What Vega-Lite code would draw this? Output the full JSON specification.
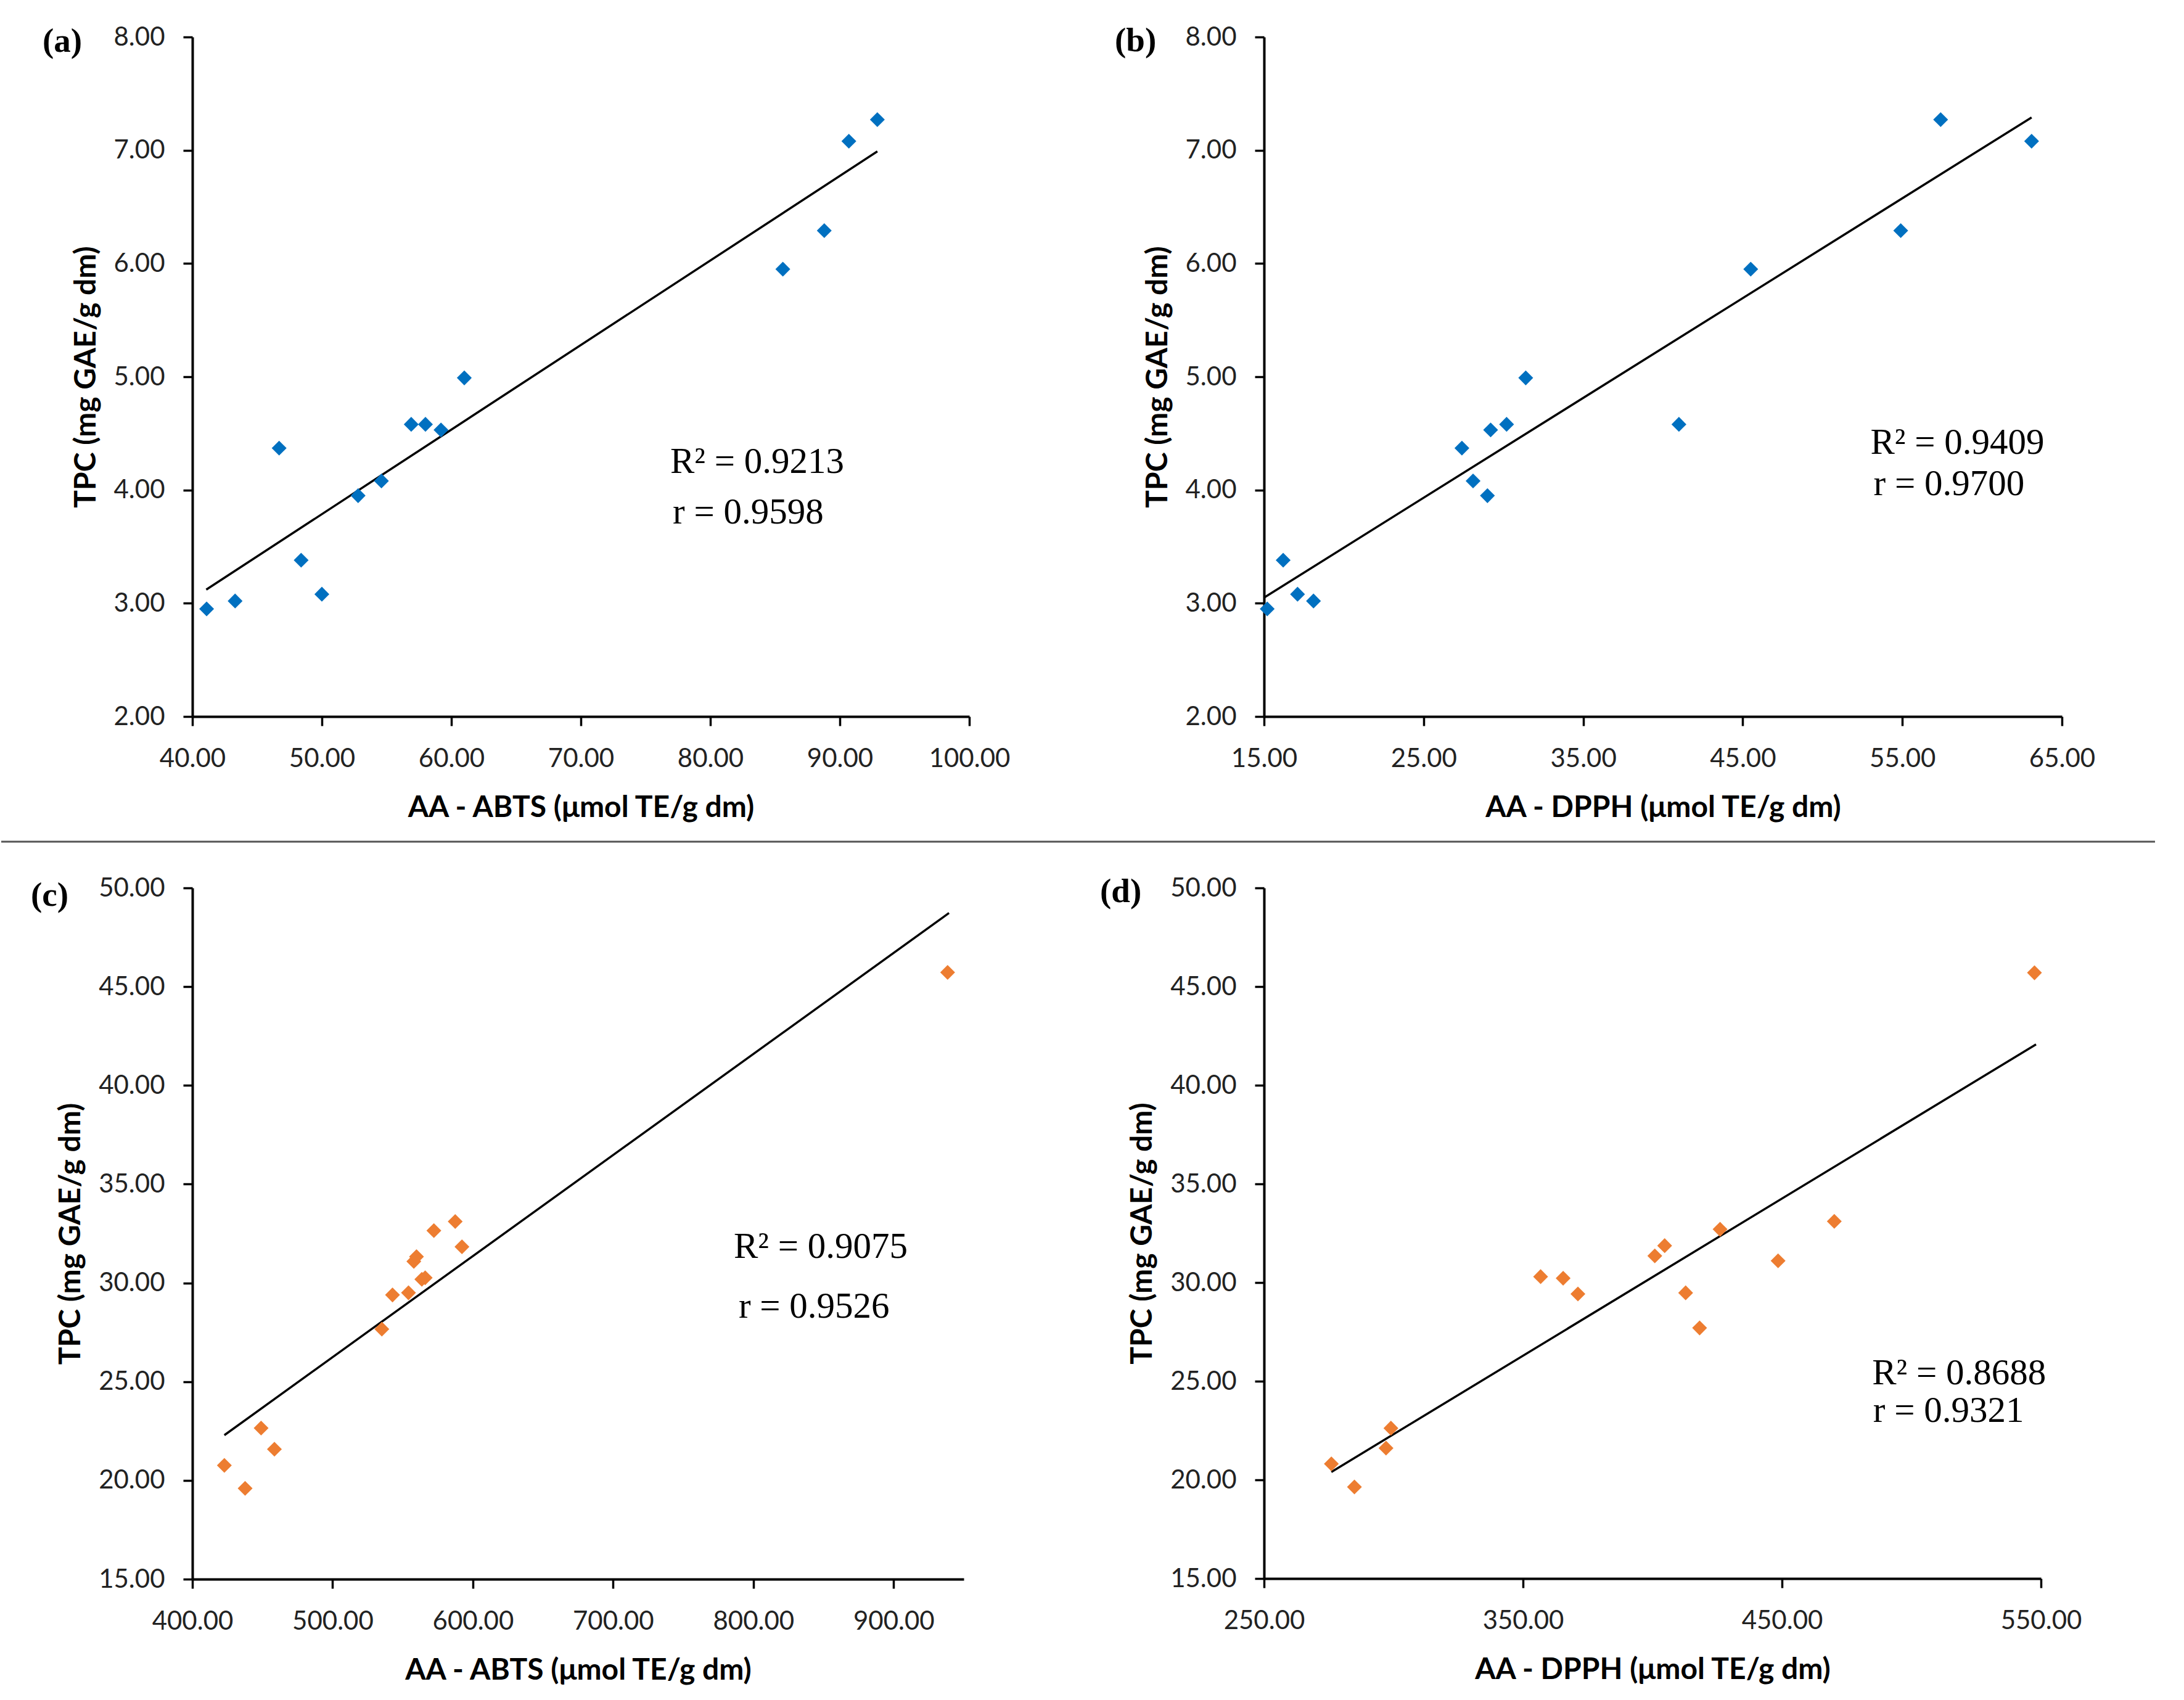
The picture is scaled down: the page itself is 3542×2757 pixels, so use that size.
{
  "$schema": "https://vega.github.io/schema/vega-lite/v6.json",
  "background": "white",
  "padding": {"left": 0, "top": 39, "right": 0, "bottom": 20},
  "datasets": {
    "pa": [
      {"aa": 41.1, "tpc": 2.95}, {"aa": 43.3, "tpc": 3.02}, {"aa": 46.7, "tpc": 4.37},
      {"aa": 48.4, "tpc": 3.38}, {"aa": 50.0, "tpc": 3.08}, {"aa": 52.8, "tpc": 3.95},
      {"aa": 54.6, "tpc": 4.08}, {"aa": 56.9, "tpc": 4.58}, {"aa": 58.0, "tpc": 4.58},
      {"aa": 59.2, "tpc": 4.53}, {"aa": 61.0, "tpc": 4.99}, {"aa": 85.6, "tpc": 5.95},
      {"aa": 88.8, "tpc": 6.29}, {"aa": 90.7, "tpc": 7.08}, {"aa": 92.9, "tpc": 7.27}
    ],
    "pb": [
      {"aa": 15.2, "tpc": 2.95}, {"aa": 16.2, "tpc": 3.38}, {"aa": 17.1, "tpc": 3.08},
      {"aa": 18.1, "tpc": 3.02}, {"aa": 27.4, "tpc": 4.37}, {"aa": 28.1, "tpc": 4.08},
      {"aa": 29.0, "tpc": 3.95}, {"aa": 29.2, "tpc": 4.53}, {"aa": 30.2, "tpc": 4.58},
      {"aa": 31.4, "tpc": 4.99}, {"aa": 41.0, "tpc": 4.58}, {"aa": 45.5, "tpc": 5.95},
      {"aa": 54.9, "tpc": 6.29}, {"aa": 57.4, "tpc": 7.27}, {"aa": 63.1, "tpc": 7.08}
    ],
    "pc": [
      {"aa": 422.8, "tpc": 20.76}, {"aa": 437.6, "tpc": 19.6}, {"aa": 449.0, "tpc": 22.65},
      {"aa": 458.5, "tpc": 21.58}, {"aa": 535.1, "tpc": 27.66}, {"aa": 542.7, "tpc": 29.39},
      {"aa": 554.1, "tpc": 29.5}, {"aa": 557.9, "tpc": 31.09}, {"aa": 559.8, "tpc": 31.33},
      {"aa": 563.6, "tpc": 30.18}, {"aa": 566.0, "tpc": 30.26}, {"aa": 572.2, "tpc": 32.65},
      {"aa": 587.4, "tpc": 33.11}, {"aa": 592.2, "tpc": 31.83}, {"aa": 938.5, "tpc": 45.72}
    ],
    "pd": [
      {"aa": 276.0, "tpc": 20.81}, {"aa": 284.9, "tpc": 19.64}, {"aa": 297.1, "tpc": 21.61},
      {"aa": 299.0, "tpc": 22.62}, {"aa": 356.8, "tpc": 30.3}, {"aa": 365.5, "tpc": 30.22},
      {"aa": 371.2, "tpc": 29.42}, {"aa": 400.9, "tpc": 31.35}, {"aa": 404.7, "tpc": 31.87},
      {"aa": 412.8, "tpc": 29.48}, {"aa": 418.2, "tpc": 27.7}, {"aa": 426.1, "tpc": 32.7},
      {"aa": 448.5, "tpc": 31.1}, {"aa": 470.2, "tpc": 33.1}, {"aa": 547.5, "tpc": 45.7}
    ],
    "ta": [{"aa": 41.07, "tpc": 3.12}, {"aa": 92.9, "tpc": 6.99}],
    "tb": [{"aa": 15.0, "tpc": 3.05}, {"aa": 63.1, "tpc": 7.29}],
    "tc": [{"aa": 422.8, "tpc": 22.29}, {"aa": 939.5, "tpc": 48.73}],
    "td": [{"aa": 276.0, "tpc": 20.4}, {"aa": 548.1, "tpc": 42.07}]
  },
  "config": {
    "view": {"stroke": null},
    "axis": {
      "grid": false,
      "domainColor": "black",
      "domainWidth": 4,
      "tickColor": "black",
      "tickWidth": 3.5,
      "tickSize": 15,
      "labelFont": "Lato",
      "labelFontSize": 42,
      "labelColor": "#222222",
      "labelFlush": false,
      "labelOverlap": false,
      "titleFont": "Lato",
      "titleFontSize": 48,
      "titleFontWeight": "bold",
      "titleColor": "black",
      "format": ".2f"
    },
    "axisX": {"labelPadding": 33, "titlePadding": 35},
    "axisY": {"labelPadding": 30, "titlePadding": 20},
    "text": {"font": "Liberation Serif", "fontSize": 59, "align": "left", "baseline": "middle", "color": "black"}
  },
  "bounds": "flush",
  "columns": 2,
  "spacing": {"row": 278, "column": 478},
  "concat": [
    {
      "width": 1260,
      "height": 1102,
      "layer": [
        {
          "data": {"name": "ta"},
          "mark": {"type": "line", "color": "black", "strokeWidth": 3.5},
          "encoding": {
            "x": {"field": "aa", "type": "quantitative", "scale": {"domain": [40, 100], "nice": false, "zero": false},
                  "axis": {"values": [40, 50, 60, 70, 80, 90, 100], "title": "AA - ABTS (μmol TE/g dm)"}},
            "y": {"field": "tpc", "type": "quantitative", "scale": {"domain": [2, 8], "nice": false, "zero": false},
                  "axis": {"values": [2, 3, 4, 5, 6, 7, 8], "title": "TPC (mg GAE/g dm)"}}
          }
        },
        {
          "data": {"name": "pa"},
          "mark": {"type": "point", "shape": "diamond", "filled": true, "color": "#0070C0", "opacity": 1, "size": 580},
          "encoding": {
            "x": {"field": "aa", "type": "quantitative"},
            "y": {"field": "tpc", "type": "quantitative"}
          }
        },
        {
          "data": {"values": [{}]},
          "mark": {"type": "text", "text": "R² = 0.9213"},
          "encoding": {"x": {"datum": 76.9}, "y": {"datum": 4.25}}
        },
        {
          "data": {"values": [{}]},
          "mark": {"type": "text", "text": "r = 0.9598"},
          "encoding": {"x": {"datum": 77.1}, "y": {"datum": 3.8}}
        },
        {
          "data": {"values": [{}]},
          "mark": {"type": "text", "text": "(a)", "fontWeight": "bold", "fontSize": 55, "dx": -243, "dy": 7},
          "encoding": {"x": {"datum": 40}, "y": {"datum": 8}}
        }
      ]
    },
    {
      "width": 1294,
      "height": 1102,
      "layer": [
        {
          "data": {"name": "tb"},
          "mark": {"type": "line", "color": "black", "strokeWidth": 3.5},
          "encoding": {
            "x": {"field": "aa", "type": "quantitative", "scale": {"domain": [15, 65], "nice": false, "zero": false},
                  "axis": {"values": [15, 25, 35, 45, 55, 65], "title": "AA - DPPH (μmol TE/g dm)"}},
            "y": {"field": "tpc", "type": "quantitative", "scale": {"domain": [2, 8], "nice": false, "zero": false},
                  "axis": {"values": [2, 3, 4, 5, 6, 7, 8], "title": "TPC (mg GAE/g dm)"}}
          }
        },
        {
          "data": {"name": "pb"},
          "mark": {"type": "point", "shape": "diamond", "filled": true, "color": "#0070C0", "opacity": 1, "size": 580},
          "encoding": {
            "x": {"field": "aa", "type": "quantitative"},
            "y": {"field": "tpc", "type": "quantitative"}
          }
        },
        {
          "data": {"values": [{}]},
          "mark": {"type": "text", "text": "R² = 0.9409"},
          "encoding": {"x": {"datum": 53.0}, "y": {"datum": 4.42}}
        },
        {
          "data": {"values": [{}]},
          "mark": {"type": "text", "text": "r = 0.9700"},
          "encoding": {"x": {"datum": 53.2}, "y": {"datum": 4.05}}
        },
        {
          "data": {"values": [{}]},
          "mark": {"type": "text", "text": "(b)", "fontWeight": "bold", "fontSize": 55, "dx": -242, "dy": 6},
          "encoding": {"x": {"datum": 15}, "y": {"datum": 8}}
        }
      ]
    },
    {
      "width": 1251,
      "height": 1121,
      "layer": [
        {
          "data": {"name": "tc"},
          "mark": {"type": "line", "color": "black", "strokeWidth": 3.5},
          "encoding": {
            "x": {"field": "aa", "type": "quantitative", "scale": {"domain": [400, 950], "nice": false, "zero": false},
                  "axis": {"values": [400, 500, 600, 700, 800, 900], "title": "AA - ABTS (μmol TE/g dm)"}},
            "y": {"field": "tpc", "type": "quantitative", "scale": {"domain": [15, 50], "nice": false, "zero": false},
                  "axis": {"values": [15, 20, 25, 30, 35, 40, 45, 50], "title": "TPC (mg GAE/g dm)"}}
          }
        },
        {
          "data": {"name": "pc"},
          "mark": {"type": "point", "shape": "diamond", "filled": true, "color": "#ED7D31", "opacity": 1, "size": 580},
          "encoding": {
            "x": {"field": "aa", "type": "quantitative"},
            "y": {"field": "tpc", "type": "quantitative"}
          }
        },
        {
          "data": {"values": [{}]},
          "mark": {"type": "text", "text": "R² = 0.9075"},
          "encoding": {"x": {"datum": 786}, "y": {"datum": 31.83}}
        },
        {
          "data": {"values": [{}]},
          "mark": {"type": "text", "text": "r = 0.9526"},
          "encoding": {"x": {"datum": 789.5}, "y": {"datum": 28.8}}
        },
        {
          "data": {"values": [{}]},
          "mark": {"type": "text", "text": "(c)", "fontWeight": "bold", "fontSize": 55, "dx": -262, "dy": 12},
          "encoding": {"x": {"datum": 400}, "y": {"datum": 50}}
        },
        {
          "data": {"values": [{}]},
          "mark": {"type": "rule", "color": "#555555", "strokeWidth": 3},
          "encoding": {
            "x": {"datum": 263.7},
            "x2": {"datum": 1799.4},
            "y": {"datum": 52.34}
          }
        }
      ]
    },
    {
      "width": 1260,
      "height": 1120,
      "layer": [
        {
          "data": {"name": "td"},
          "mark": {"type": "line", "color": "black", "strokeWidth": 3.5},
          "encoding": {
            "x": {"field": "aa", "type": "quantitative", "scale": {"domain": [250, 550], "nice": false, "zero": false},
                  "axis": {"values": [250, 350, 450, 550], "title": "AA - DPPH (μmol TE/g dm)"}},
            "y": {"field": "tpc", "type": "quantitative", "scale": {"domain": [15, 50], "nice": false, "zero": false},
                  "axis": {"values": [15, 20, 25, 30, 35, 40, 45, 50], "title": "TPC (mg GAE/g dm)"}}
          }
        },
        {
          "data": {"name": "pd"},
          "mark": {"type": "point", "shape": "diamond", "filled": true, "color": "#ED7D31", "opacity": 1, "size": 580},
          "encoding": {
            "x": {"field": "aa", "type": "quantitative"},
            "y": {"field": "tpc", "type": "quantitative"}
          }
        },
        {
          "data": {"values": [{}]},
          "mark": {"type": "text", "text": "R² = 0.8688"},
          "encoding": {"x": {"datum": 484.8}, "y": {"datum": 25.4}}
        },
        {
          "data": {"values": [{}]},
          "mark": {"type": "text", "text": "r = 0.9321"},
          "encoding": {"x": {"datum": 485.2}, "y": {"datum": 23.5}}
        },
        {
          "data": {"values": [{}]},
          "mark": {"type": "text", "text": "(d)", "fontWeight": "bold", "fontSize": 55, "dx": -266, "dy": 6},
          "encoding": {"x": {"datum": 250}, "y": {"datum": 50}}
        }
      ]
    }
  ]
}
